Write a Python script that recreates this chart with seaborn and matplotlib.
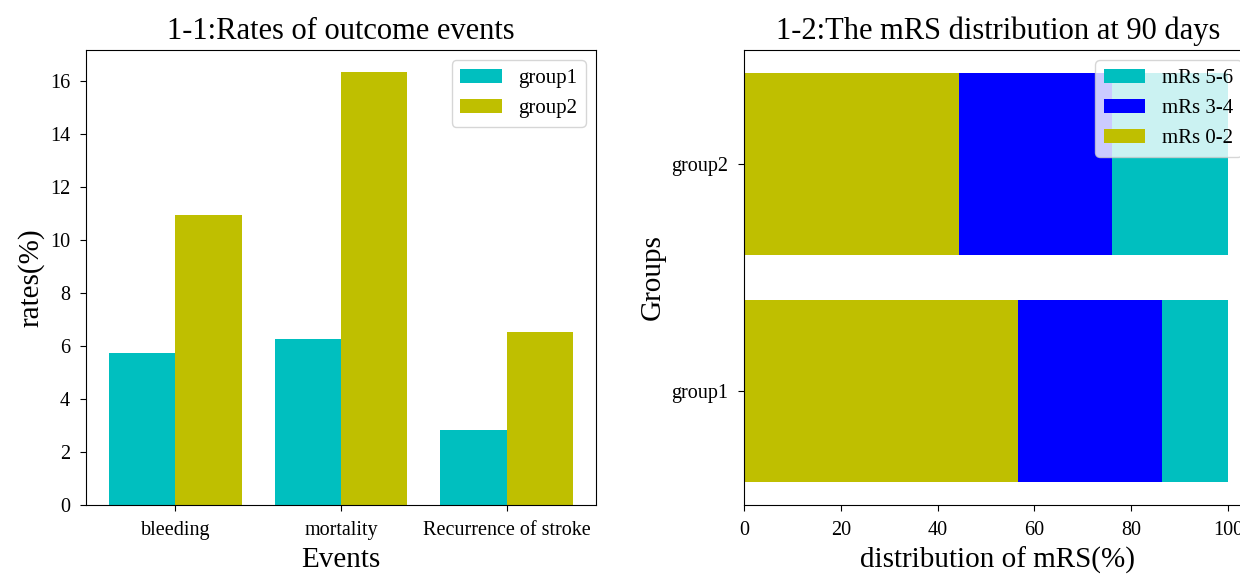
import numpy as np
import pandas as pd
import seaborn as sns
import matplotlib
matplotlib.use("Agg")
import matplotlib.pyplot as plt

# data
events = ["bleeding", "mortality", "Recurrence of stroke"]
group1_rates = [5.72, 6.28, 2.83]
group2_rates = [10.93, 16.35, 6.52]

groups = ["group2", "group1"]          # top to bottom
mrs_0_2 = [44.5, 56.6]
mrs_3_4 = [31.5, 29.7]
mrs_5_6 = [24.0, 13.7]

plt.rcParams['font.family'] = ['Liberation Serif', 'DejaVu Serif']

fig = plt.figure(figsize=(12.4, 5.75), dpi=100)
ax1 = fig.add_axes([86/1240, 70/575, 510/1240, 455/575])
ax2 = fig.add_axes([744/1240, 70/575, 508/1240, 455/575])

TITLE = 22
LABEL = 21
TICK = 14.5
LEG = 15

# 1-1 grouped bars
df1 = pd.DataFrame({
    "event": events * 2,
    "rate": group1_rates + group2_rates,
    "group": ["group1"] * 3 + ["group2"] * 3,
})
sns.barplot(data=df1, x="event", y="rate", hue="group", palette=["c", "y"],
            saturation=1, ax=ax1)
ax1.set_xlim(-0.54, 2.54)
ax1.set_title("1-1:Rates of outcome events", fontsize=TITLE, pad=8)
ax1.set_xlabel("Events", fontsize=LABEL, labelpad=5)
ax1.set_ylabel("rates(%)", fontsize=LABEL, labelpad=4)
ax1.tick_params(labelsize=TICK, length=4.5, pad=7)
ax1.legend(loc="upper right", fontsize=LEG)

# 1-2 stacked horizontal bars (layered cumulative sums)
c1 = np.array(mrs_0_2)
c2 = c1 + np.array(mrs_3_4)
c3 = c2 + np.array(mrs_5_6)
sns.barplot(x=c3, y=groups, color="c", saturation=1, orient="h", label="mRs 5-6", ax=ax2)
sns.barplot(x=c2, y=groups, color="b", saturation=1, orient="h", label="mRs 3-4", ax=ax2)
sns.barplot(x=c1, y=groups, color="y", saturation=1, orient="h", label="mRs 0-2", ax=ax2)
ax2.set_title("1-2:The mRS distribution at 90 days", fontsize=TITLE, pad=8)
ax2.set_xlabel("distribution of mRS(%)", fontsize=LABEL, labelpad=5)
ax2.set_ylabel("Groups", fontsize=LABEL, labelpad=4)
ax2.tick_params(labelsize=TICK, length=4.5, pad=7)
ax2.legend(loc="upper right", fontsize=LEG)

fig.savefig("out.png", dpi=100)
